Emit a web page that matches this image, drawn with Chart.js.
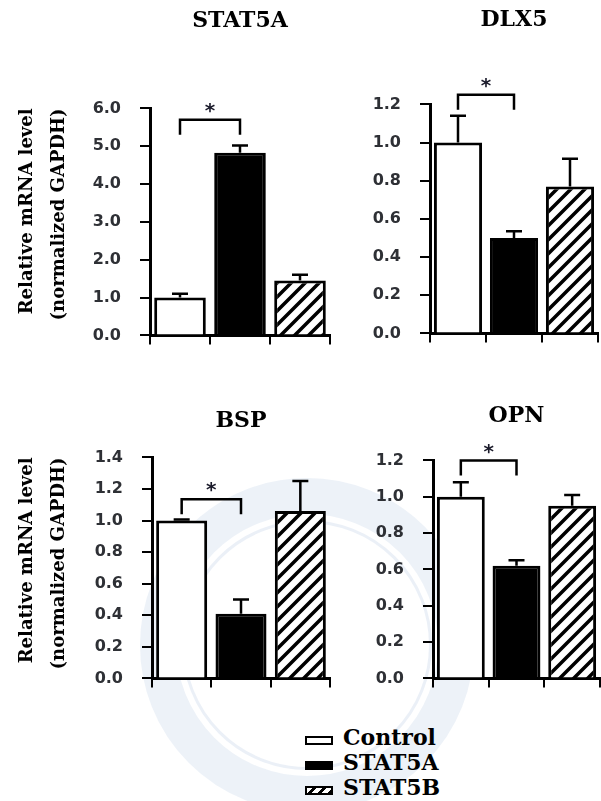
<!DOCTYPE html>
<html>
<head>
<meta charset="utf-8">
<script src="https://cdn.jsdelivr.net/npm/chart.js@4.4.1/dist/chart.umd.min.js"></script>
<style>
  body { margin: 0; background: #fff; }
  #page { position: relative; width: 601px; height: 801px; overflow: hidden; background: #fff; }
  canvas { position: absolute; }
  /* faint seal watermark behind the lower panels */
  #seal {
    position: absolute; left: 140px; top: 478px; width: 334px; height: 334px;
    box-sizing: border-box; border-radius: 50%;
    border: 36px solid rgba(175, 195, 225, 0.22);
  }
  #seal::after {
    content: ''; position: absolute; left: 6px; top: 6px; right: 6px; bottom: 6px;
    border-radius: 50%; border: 3px solid rgba(175, 195, 225, 0.25);
  }
  #legend {
    position: absolute; left: 305px; top: 725px;
    font: bold 22px 'DejaVu Serif', serif; line-height: 25px; color: #000;
  }
  #legend .sw {
    display: inline-block; width: 28px; height: 9px; box-sizing: border-box;
    border: 2px solid #000; margin-right: 10px; vertical-align: baseline;
  }
</style>
</head>
<body>
<div id="page">
  <div id="seal"></div>
  <canvas id="c1" width="340" height="364" style="left:0;top:0"></canvas>
  <canvas id="c2" width="261" height="362" style="left:340px;top:0"></canvas>
  <canvas id="c3" width="340" height="327" style="left:0;top:380px"></canvas>
  <canvas id="c4" width="261" height="327" style="left:340px;top:380px"></canvas>
  <div id="legend">
    <div><span class="sw" style="background:#fff"></span>Control</div>
    <div><span class="sw" style="background:#000"></span>STAT5A</div>
    <div><span class="sw" style="background:repeating-linear-gradient(135deg,#fff 0 4px,#000 4px 7px)"></span>STAT5B</div>
  </div>
</div>
<script>
// groups and values
const groups = ['Control', 'STAT5A', 'STAT5B'];
const panelTitles = ['STAT5A', 'DLX5', 'BSP', 'OPN'];

const stat5aMean = [1.0, 4.83, 1.45];
const stat5aErr = [0.1, 0.19, 0.15];
const dlx5Mean = [1.0, 0.50, 0.77];
const dlx5Err = [0.14, 0.035, 0.145];
const bspMean = [1.0, 0.41, 1.06];
const bspErr = [0.006, 0.09, 0.19];
const opnMean = [1.0, 0.62, 0.95];
const opnErr = [0.08, 0.03, 0.06];

const yMax = [6, 1.2, 1.4, 1.2];
const yStep = [1, 0.2, 0.2, 0.2];
const sigLevel = [5.7, 1.25, 1.135, 1.2]; // height of the * bracket (Control vs STAT5A)
const yTitle = ['Relative mRNA level', '(normalized GAPDH)'];

const means = [stat5aMean, dlx5Mean, bspMean, opnMean];
const errs = [stat5aErr, dlx5Err, bspErr, opnErr];

// per-panel placement
const panels = [
  { id: 'c1', axisW: 150, padRight: 10, titlePad: { top: 8, bottom: 74 }, yTitle: true },
  { id: 'c2', axisW: 90, padRight: 3, titlePad: { top: 7, bottom: 71 }, yTitle: false },
  { id: 'c3', axisW: 152, padRight: 10, titlePad: { top: 28, bottom: 23 }, yTitle: true },
  { id: 'c4', axisW: 93, padRight: 1, titlePad: { top: 23, bottom: 31 }, yTitle: false },
];

Chart.defaults.font.family = "'DejaVu Sans', sans-serif";

// diagonal hatch for STAT5B
function makeHatch() {
  const s = 14;
  const c = document.createElement('canvas');
  c.width = s; c.height = s;
  const g = c.getContext('2d');
  g.fillStyle = '#fff';
  g.fillRect(0, 0, s, s);
  g.strokeStyle = '#000';
  g.lineWidth = 3.5;
  g.beginPath();
  g.moveTo(-2, s + 2); g.lineTo(s + 2, -2);
  g.moveTo(-s / 2 - 2, s / 2 + 2); g.lineTo(s / 2 + 2, -s / 2 - 2);
  g.moveTo(s / 2 - 2, s * 1.5 + 2); g.lineTo(s * 1.5 + 2, s / 2 - 2);
  g.stroke();
  return g.createPattern(c, 'repeat');
}

// error bars (upper only) and the significance bracket
function annotations(mean, err, sig) {
  return {
    id: 'annotations',
    afterDatasetsDraw(chart) {
      const { ctx, scales: { y } } = chart;
      const bars = chart.getDatasetMeta(0).data;
      ctx.save();
      ctx.strokeStyle = '#000';
      ctx.lineWidth = 2.5;
      bars.forEach((bar, i) => {
        const top = y.getPixelForValue(mean[i] + err[i]);
        ctx.beginPath();
        ctx.moveTo(bar.x, bar.y);
        ctx.lineTo(bar.x, top);
        ctx.moveTo(bar.x - 8, top);
        ctx.lineTo(bar.x + 8, top);
        ctx.stroke();
      });
      const x0 = bars[0].x, x1 = bars[1].x;
      const yb = y.getPixelForValue(sig);
      ctx.beginPath();
      ctx.moveTo(x0, yb + 15);
      ctx.lineTo(x0, yb);
      ctx.lineTo(x1, yb);
      ctx.lineTo(x1, yb + 15);
      ctx.stroke();
      ctx.fillStyle = '#1a1a2a';
      ctx.font = "bold 20px 'DejaVu Sans'";
      ctx.textAlign = 'center';
      ctx.textBaseline = 'middle';
      ctx.fillText('*', (x0 + x1) / 2, yb - 8);
      ctx.restore();
    }
  };
}

const hatch = makeHatch();

panels.forEach((p, k) => {
  const ctx = document.getElementById(p.id).getContext('2d');
  new Chart(ctx, {
    type: 'bar',
    data: {
      labels: groups,
      datasets: [{
        data: means[k],
        backgroundColor: ['#fff', '#000', hatch],
        borderColor: '#000',
        borderWidth: 3,
        barPercentage: 0.86,
        categoryPercentage: 1,
      }],
    },
    options: {
      responsive: false,
      animation: false,
      layout: { padding: { left: 0, right: p.padRight, top: 0, bottom: 0 } },
      plugins: {
        legend: { display: false },
        tooltip: { enabled: false },
        title: {
          display: true,
          text: panelTitles[k],
          fullSize: false,
          color: '#000',
          font: { family: "'DejaVu Serif', serif", size: 22, weight: 'bold', lineHeight: 1.2 },
          padding: p.titlePad,
        },
      },
      scales: {
        x: {
          offset: true,
          grid: { offset: true, drawOnChartArea: false, drawTicks: true, tickLength: 9, color: '#000', lineWidth: 2 },
          border: { display: true, color: '#000', width: 3 },
          ticks: { display: false },
          afterFit: (s) => { s.height = 12; },
        },
        y: {
          min: 0,
          max: yMax[k],
          ticks: {
            stepSize: yStep[k],
            callback: (v) => v.toFixed(1),
            color: '#2e3035',
            padding: 19,
            font: { size: 16, weight: 'bold' },
          },
          grid: { drawOnChartArea: false, drawTicks: true, tickLength: 10, color: '#000', lineWidth: 2 },
          border: { display: true, color: '#000', width: 3 },
          title: {
            display: p.yTitle,
            text: yTitle,
            align: 'end',
            color: '#000',
            font: { family: "'DejaVu Serif', serif", size: 18, weight: 'bold', lineHeight: 1.75 },
            padding: { top: 12, bottom: 0 },
          },
          afterFit: (s) => { s.width = p.axisW; },
        },
      },
    },
    plugins: [annotations(means[k], errs[k], sigLevel[k])],
  });
});
</script>
</body>
</html>
